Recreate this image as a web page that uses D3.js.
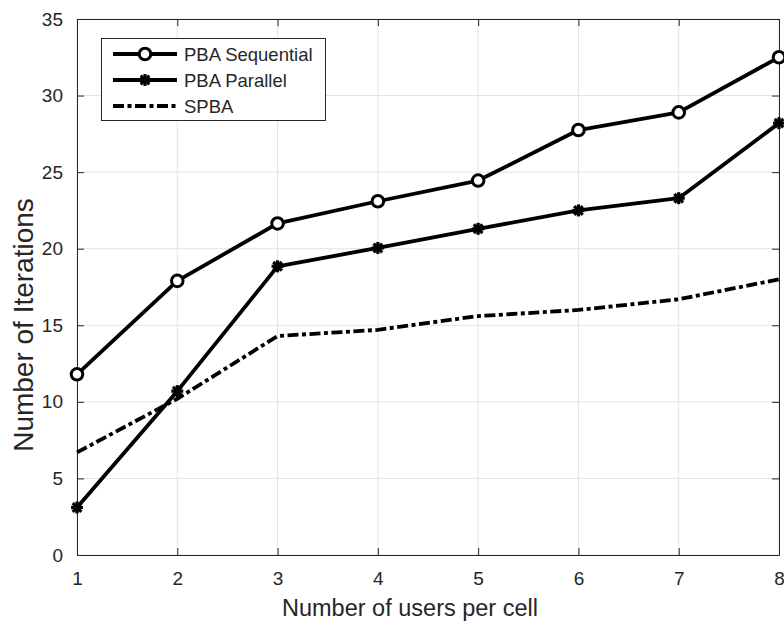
<!DOCTYPE html>
<html><head><meta charset="utf-8">
<script src="https://cdn.jsdelivr.net/npm/d3@7"></script>
<style>body{margin:0;background:#fff}svg{display:block}text{font-family:"Liberation Sans",Arial,sans-serif;fill:#262626}</style>
</head><body><svg id="c" width="784" height="621"></svg>
<script>
const users = [1,2,3,4,5,6,7,8];
const pbaSequential = [11.8,17.9,21.65,23.1,24.45,27.75,28.9,32.5];
const pbaParallel = [3.1,10.7,18.85,20.05,21.3,22.5,23.3,28.2];
const spba = [6.7,10.2,14.3,14.7,15.6,16.0,16.7,18.0];
const xTicks = [1,2,3,4,5,6,7,8];
const yTicks = [0,5,10,15,20,25,30,35];
const seriesNames = ["PBA Sequential","PBA Parallel","SPBA"];

const svg = d3.select("#c");
const L=77,R=779,T=19,B=555;
const x = d3.scaleLinear().domain([1,8]).range([L,R]);
const y = d3.scaleLinear().domain([0,35]).range([B,T]);
const axisCol="#262626", gridCol="#e3e3e3";

// grid
const g = svg.append("g");
g.selectAll(".gx").data(xTicks).join("line").attr("x1",d=>x(d)).attr("x2",d=>x(d)).attr("y1",T).attr("y2",B).attr("stroke",gridCol).attr("stroke-width",1);
g.selectAll(".gy").data(yTicks).join("line").attr("y1",d=>y(d)).attr("y2",d=>y(d)).attr("x1",L).attr("x2",R).attr("stroke",gridCol).attr("stroke-width",1);

// axes
const ax = svg.append("g").attr("transform",`translate(0,${B})`).call(d3.axisBottom(x).tickValues(xTicks).tickSizeInner(-7).tickSizeOuter(0).tickPadding(16.5).tickFormat(d3.format("d")));
const ay = svg.append("g").attr("transform",`translate(${L},0)`).call(d3.axisLeft(y).tickValues(yTicks).tickSizeInner(-7).tickSizeOuter(0).tickPadding(14).tickFormat(d3.format("d")));
const at = svg.append("g").attr("transform",`translate(0,${T})`).call(d3.axisTop(x).tickValues(xTicks).tickSizeInner(-7).tickSizeOuter(0).tickFormat(""));
const ar = svg.append("g").attr("transform",`translate(${R},0)`).call(d3.axisRight(y).tickValues(yTicks).tickSizeInner(-7).tickSizeOuter(0).tickFormat(""));
[ax,ay,at,ar].forEach(a=>{a.selectAll("path,line").attr("stroke",axisCol).attr("stroke-width",1);a.selectAll("text").attr("font-size",19).attr("fill",axisCol).style("font-family","'Liberation Sans',Arial,sans-serif");});

svg.append("text").attr("x",282).attr("y",616).attr("text-anchor","start").attr("font-size",23.5).text("Number of users per cell");
svg.append("text").attr("transform",`translate(32.5,325) rotate(-90)`).attr("text-anchor","middle").attr("font-size",28).text("Number of Iterations");

const line = d3.line().x((d,i)=>x(users[i])).y(d=>y(d));
const plot = svg.append("g");
function star(sel, cx, cy){
  const r=6, s=r*0.72;
  const segs=[[-r,0,r,0],[0,-r,0,r],[-s,-s,s,s],[-s,s,s,-s]];
  segs.forEach(q=>sel.append("line").attr("x1",cx+q[0]).attr("y1",cy+q[1]).attr("x2",cx+q[2]).attr("y2",cy+q[3]).attr("stroke","#000").attr("stroke-width",3.2));
}
plot.append("path").datum(spba).attr("d",line).attr("fill","none").attr("stroke","#000").attr("stroke-width",3.8).attr("stroke-dasharray","11,3.5,4,3.5");
plot.append("path").datum(pbaParallel).attr("d",line).attr("fill","none").attr("stroke","#000").attr("stroke-width",3.8).attr("stroke-linejoin","round");
plot.append("path").datum(pbaSequential).attr("d",line).attr("fill","none").attr("stroke","#000").attr("stroke-width",3.8).attr("stroke-linejoin","round");
pbaParallel.forEach((d,i)=>star(plot,x(users[i]),y(d)));
plot.selectAll(".c").data(pbaSequential).join("circle").attr("cx",(d,i)=>x(users[i])).attr("cy",d=>y(d)).attr("r",5.8).attr("fill","#fff").attr("stroke","#000").attr("stroke-width",3);

// legend
const lg = svg.append("g");
lg.append("rect").attr("x",101.5).attr("y",38.5).attr("width",224).attr("height",82).attr("fill","#fff").attr("stroke",axisCol).attr("stroke-width",1);
const rows=[54,80,106];
seriesNames.forEach((n,i)=>{
  const yy=rows[i];
  const ln=lg.append("line").attr("x1",113).attr("x2",177).attr("y1",yy).attr("y2",yy).attr("stroke","#000").attr("stroke-width",3.8);
  if(i===2) ln.attr("stroke-dasharray","11,3.5,4,3.5");
  if(i===0) lg.append("circle").attr("cx",145).attr("cy",yy).attr("r",5.8).attr("fill","#fff").attr("stroke","#000").attr("stroke-width",3);
  if(i===1) star(lg,145,yy);
  lg.append("text").attr("x",184).attr("y",yy+6.5).attr("font-size",18.5).attr("fill","#000").text(n);
});
</script></body></html>
